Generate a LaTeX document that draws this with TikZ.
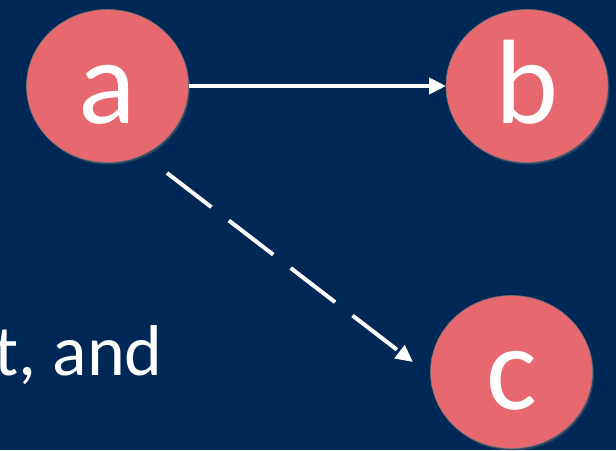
\documentclass[tikz,border=0pt]{standalone}
\usepackage{fontspec}
\setmainfont{Carlito}
\usetikzlibrary{shapes.geometric,arrows.meta,shadows,calc}
\definecolor{navy}{RGB}{0,40,86}
\definecolor{coral}{RGB}{232,104,112}
\tikzset{
  vertex/.style={ellipse, fill=coral, draw=black!55, line width=0.6pt,
    minimum width=162pt, minimum height=153pt, inner sep=0pt, outer sep=0pt,
    text=white, font=\fontsize{120}{120}\selectfont,
    text height=74pt, text depth=0pt,
    drop shadow={opacity=0.35, shadow xshift=1.5pt, shadow yshift=-2pt}},
  edge/.style={draw=white, line width=4pt,
    -{Triangle[length=17pt,width=16pt]}},
  dashedge/.style={edge, dash pattern=on 56pt off 22pt},
  caption/.style={text=white, font=\fontsize{72}{72}\selectfont,
    inner sep=0pt, anchor=base east}
}
\begin{document}
\begin{tikzpicture}[x=1pt,y=-1pt]
  \fill[navy] (0,0) rectangle (616,450);
  \useasboundingbox (0,0) rectangle (616,450);

  \node[vertex] (a) at (107.5,86) {a};
  \node[vertex] (b) at (527,86) {b};
  \node[vertex] (c) at (511.5,372) {c};

  \node[caption] (txt) at (163,375) {t, and};

  \coordinate (from) at ($(a)+(59.5,87)$);
  \coordinate (to) at ($(c)+(-98.5,-10)$);

  \draw[edge] (a) -- (b);
  \draw[dashedge] (from) -- (to);
\end{tikzpicture}
\end{document}
